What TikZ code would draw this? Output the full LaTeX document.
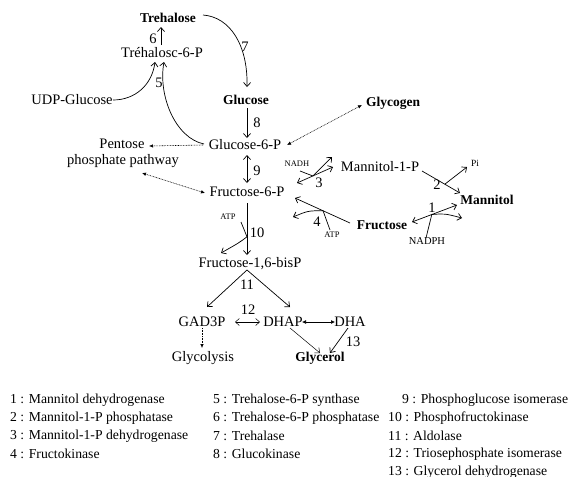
\documentclass[tikz,border=0pt]{standalone}
\usepackage{fontspec}
\setmainfont{Liberation Serif}
\usetikzlibrary{arrows.meta,calc}
\begin{document}
\begin{tikzpicture}[x=1pt,y=-1pt,
  lbl/.style={inner sep=0pt,font=\fontsize{14.5}{17}\selectfont},
  blbl/.style={inner sep=0pt,font=\fontsize{13.5}{16}\selectfont\bfseries},
  sml/.style={inner sep=0pt,font=\fontsize{8.5}{9}\selectfont},
  num/.style={inner sep=0pt,font=\fontsize{14.5}{17}\selectfont},
  leg/.style={inner sep=0pt,anchor=west,font=\fontsize{13.7}{16}\selectfont},
  arr/.style={line width=0.7pt,-{Straight Barb[length=4pt,width=7pt]}},
  arrb/.style={line width=0.7pt,{Straight Barb[length=4pt,width=7pt]}-{Straight Barb[length=4pt,width=7pt]}},
  dotarr/.style={line width=0.6pt,dash pattern=on 0.8pt off 0.8pt,-{Latex[length=4pt,width=3.5pt]}},
  dotarrb/.style={line width=0.6pt,dash pattern=on 0.8pt off 0.8pt,{Latex[length=4pt,width=3.5pt]}-{Latex[length=4pt,width=3.5pt]}}
]
\fill[white] (0,0) rectangle (579,477);
\path[use as bounding box] (0,0) rectangle (579,477);

% metabolites
\node[blbl] (treh) at (168,18) {Trehalose};
\node[lbl] (t6p) at (162,53) {Tréhalosc-6-P};
\node[blbl] (glc) at (246,100) {Glucose};
\node[lbl] (udp) at (72,100) {UDP-Glucose};
\node[lbl] (g6p) at (245,145) {Glucose-6-P};
\node[lbl] (ppp1) at (122,144) {Pentose};
\node[lbl] (ppp2) at (123,161) {phosphate pathway};
\node[blbl] (glyg) at (393,103) {Glycogen};
\node[lbl] (f6p) at (247,192) {Fructose-6-P};
\node[lbl] (fbp) at (250,264) {Fructose-1,6-bisP};
\node[lbl] (gad) at (202,322) {GAD3P};
\node[lbl] (dhap) at (283,322) {DHAP};
\node[lbl] (dha) at (350,322) {DHA};
\node[blbl] (glyc) at (320,358) {Glycerol};
\node[lbl] (glyco) at (203,358) {Glycolysis};
\node[lbl] (m1p) at (380,167) {Mannitol-1-P};
\node[blbl] (mtl) at (487,200) {Mannitol};
\node[blbl] (fru) at (382,225) {Fructose};
\node[sml] (nadh) at (297,164) {NADH};
\node[sml] (atp1) at (228,217) {ATP};
\node[sml] (atp2) at (332,235) {ATP};
\node[sml,font=\fontsize{10.5}{12}\selectfont] (nadph) at (427,241) {NADPH};
\node[sml,font=\fontsize{9.5}{11}\selectfont] (pi) at (475,163) {Pi};

% reaction numbers
\node[num] (n1) at (432,208) {1};
\node[num] (n2) at (437,185) {2};
\node[num] (n3) at (319,183) {3};
\node[num] (n4) at (317,222) {4};
\node[num] (n5) at (159,83) {5};
\node[num] (n6) at (153,39) {6};
\node[num] (n7) at (245,47) {7};
\node[num] (n8) at (257,123) {8};
\node[num] (n9) at (257,171) {9};
\node[num] (n10) at (257,233) {10};
\node[num] (n11) at (247,285) {11};
\node[num] (n12) at (248,310) {12};
\node[num] (n13) at (353,342) {13};

% connectors
\draw[arr] ($(t6p)+(-1,-8)$) -- ($(treh)+(-7,9)$);
\draw[arr] ($(treh)+(35,-3)$) .. controls (230,17) and (248,45) .. ($(glc)+(1,-13)$);
\draw[arr] ($(glc)+(1,8)$) -- ($(g6p)+(2,-7)$);
\draw[arrb] ($(g6p)+(2,10)$) -- ($(f6p)+(0,-9)$);
\draw[arr] ($(f6p)+(0,11)$) -- ($(fbp)+(-3,-9)$) coordinate[pos=0.65] (x10);
\draw[arr] ($(atp1)+(13,5)$) -- (x10) .. controls ($(x10)+(-8,6)$) .. ($(fbp)+(-29,-11)$);
\draw[arr] ($(udp)+(41,0)$) .. controls (135,100) and (152,85) .. ($(t6p)+(-7,9)$);
\draw[arr] ($(g6p)+(-41,-1)$) .. controls (175,138) and (158,95) .. ($(t6p)+(2,9)$);
\draw[dotarr] ($(g6p)+(-42,0)$) -- ($(ppp1)+(27,2)$);
\draw[dotarrb] ($(ppp2)+(19,12)$) -- ($(f6p)+(-42,1)$);
\draw[dotarrb] ($(g6p)+(42,0)$) -- ($(glyg)+(-31,2)$);
\draw[arr] ($(fbp)+(-3,6)$) -- ($(gad)+(5,-15)$);
\draw[arr] ($(fbp)+(-3,6)$) -- ($(dhap)+(7,-15)$);
\draw[arrb,line width=0.5pt] ($(gad)+(33,0)$) -- ($(dhap)+(-23,0)$);
\draw[line width=0.7pt,{Latex[length=4pt,width=4pt]}-{Latex[length=4pt,width=4pt]}] ($(dhap)+(19,0)$) -- ($(dha)+(-15,0)$);
\draw[arr,line width=0.5pt] ($(dhap)+(7,6)$) -- ($(glyc)+(0,-5)$);
\draw[arr] ($(dha)+(-2,6)$) -- ($(glyc)+(10,-5)$);
\draw[dotarr] ($(gad)+(0,6)$) -- ($(glyco)+(-1,-10)$);

% 3
\draw[arrb] ($(f6p)+(50,-9)$) -- ($(m1p)+(-47,0)$) coordinate[pos=0.44] (x3);
\draw[arr] ($(nadh)+(3,7)$) -- (x3) -- ($(m1p)+(-48,-10)$);
% 4
\draw[arr] ($(fru)+(-32,-2)$) -- ($(f6p)+(48,6)$) coordinate[pos=0.49] (x4);
\draw[arr] ($(atp2)+(-2,-5)$) -- (x4) .. controls ($(x4)+(-15,0)$) .. ($(f6p)+(46,25)$);
% 2
\draw[arr] ($(m1p)+(42,4)$) -- ($(mtl)+(-27,-7)$) coordinate[pos=0.6] (x2);
\draw[arr] (x2) -- ($(pi)+(-8,4)$);
% 1
\draw[arrb] ($(fru)+(30,-3)$) -- ($(mtl)+(-30,5)$) coordinate[pos=0.44] (x1);
\draw[arr] ($(nadph)+(-1,-3)$) -- (x1) .. controls ($(x1)+(13,-1)$) .. ($(mtl)+(-25,18)$);

% legend
\node[leg] (l1) at (10,400) {1 : Mannitol dehydrogenase};
\node[leg] (l2) at (10,418) {2 : Mannitol-1-P phosphatase};
\node[leg] (l3) at (10,436) {3 : Mannitol-1-P dehydrogenase};
\node[leg] (l4) at (10,454) {4 : Fructokinase};
\node[leg] (l5) at (213,400) {5 : Trehalose-6-P synthase};
\node[leg] (l6) at (213,418) {6 : Trehalose-6-P phosphatase};
\node[leg] (l7) at (213,436) {7 : Trehalase};
\node[leg] (l8) at (213,454) {8 : Glucokinase};
\node[leg] (l9) at (402,400) {9 : Phosphoglucose isomerase};
\node[leg] (l10) at (388,418) {10 : Phosphofructokinase};
\node[leg] (l11) at (388,436) {11 : Aldolase};
\node[leg] (l12) at (388,454) {12 : Triosephosphate isomerase};
\node[leg] (l13) at (388,472) {13 : Glycerol dehydrogenase};
\end{tikzpicture}
\end{document}
